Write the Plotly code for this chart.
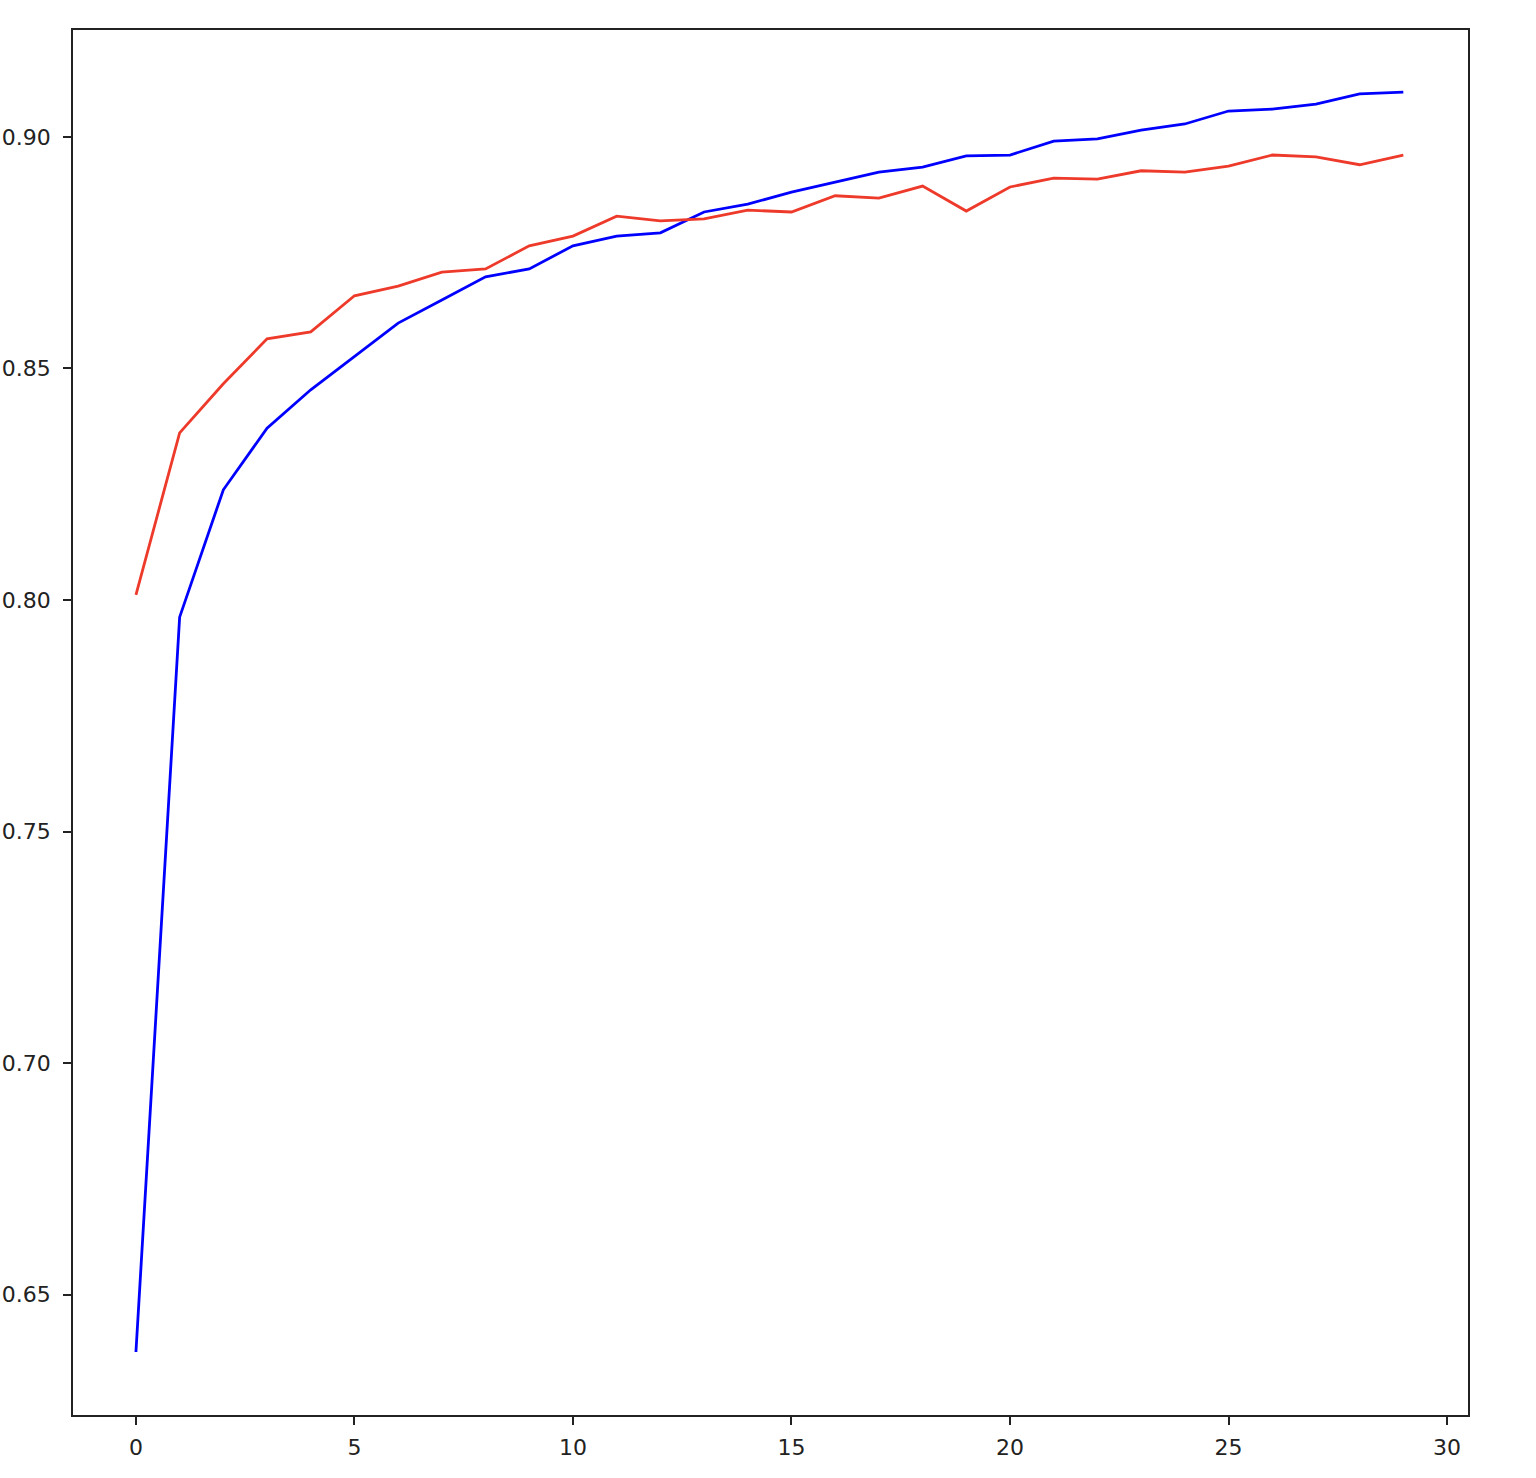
import plotly.graph_objects as go

epochs = list(range(30))
blue_values = [0.6376, 0.7963, 0.8238, 0.8371, 0.8454, 0.8527, 0.8598, 0.8648, 0.8698, 0.8715,
               0.8765, 0.8786, 0.8793, 0.8838, 0.8855, 0.8881, 0.8903, 0.8924, 0.8935, 0.8959,
               0.8961, 0.8991, 0.8996, 0.9015, 0.9028, 0.9056, 0.9060, 0.9071, 0.9093, 0.9097]
red_values = [0.8011, 0.8361, 0.8467, 0.8564, 0.8579, 0.8657, 0.8678, 0.8708, 0.8715, 0.8765,
              0.8786, 0.8829, 0.8819, 0.8823, 0.8842, 0.8838, 0.8873, 0.8868, 0.8894, 0.8840,
              0.8892, 0.8911, 0.8909, 0.8927, 0.8924, 0.8937, 0.8961, 0.8957, 0.8940, 0.8961]
x_ticks = [0, 5, 10, 15, 20, 25, 30]
y_ticks = [0.65, 0.70, 0.75, 0.80, 0.85, 0.90]

fig = go.Figure()
fig.add_trace(go.Scatter(x=epochs, y=blue_values, mode="lines",
                         line=dict(color="#0000ff", width=2.8), showlegend=False))
fig.add_trace(go.Scatter(x=epochs, y=red_values, mode="lines",
                         line=dict(color="#ee3a2a", width=2.8), showlegend=False))

axis_common = dict(showgrid=False, zeroline=False, showline=True, linecolor="#222",
                   linewidth=1.5, mirror=True, ticks="outside", ticklen=8, tickwidth=1.5,
                   automargin=False,
                   tickcolor="#222", tickfont=dict(family="DejaVu Sans", size=22, color="#222"))
fig.update_xaxes(range=[-1.44, 30.48], tickvals=x_ticks, ticklabelstandoff=4,
                 ticktext=[str(v) for v in x_ticks], **axis_common)
fig.update_yaxes(range=[0.624, 0.9231], tickvals=y_ticks, ticklabelstandoff=8,
                 ticktext=[f"{v:.2f}" for v in y_ticks], **axis_common)

fig.update_layout(width=1536, height=1478, plot_bgcolor="white", paper_bgcolor="white",
                  margin=dict(l=73, r=68, t=30, b=63))

fig.write_html("out.html", config={"displayModeBar": False},
               post_script="document.body.style.margin='0px';")
